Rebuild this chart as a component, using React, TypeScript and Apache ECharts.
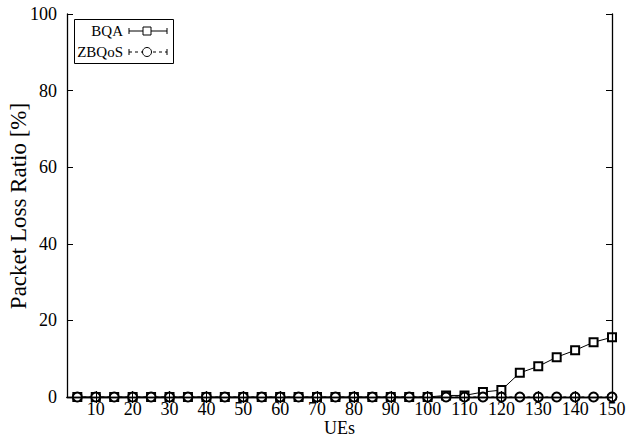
import React, { useEffect, useRef } from "react";
import * as echarts from "echarts";

const ues = [5, 10, 15, 20, 25, 30, 35, 40, 45, 50, 55, 60, 65, 70, 75, 80, 85, 90, 95, 100, 105, 110, 115, 120, 125, 130, 135, 140, 145, 150];
const bqa = [0, 0, 0, 0, 0, 0, 0, 0, 0, 0, 0, 0, 0, 0, 0, 0, 0, 0, 0, 0, 0.4, 0.4, 1.3, 1.8, 6.3, 8.0, 10.4, 12.2, 14.3, 15.6];
const zbqos = [0, 0, 0, 0, 0, 0, 0, 0, 0, 0, 0, 0, 0, 0, 0, 0, 0, 0, 0, 0, 0, 0, 0, 0, 0, 0, 0, 0, 0, 0];
const xTicks = [10, 20, 30, 40, 50, 60, 70, 80, 90, 100, 110, 120, 130, 140, 150];
const legendNames = ["BQA", "ZBQoS"];
const xTitle = "UEs";
const yTitle = "Packet Loss Ratio [%]";

const FONT = "Liberation Serif";

export default function App() {
  const ref = useRef<HTMLDivElement>(null);
  useEffect(() => {
    if (!ref.current) return;
    const chart = echarts.init(ref.current, null, { renderer: "svg" });
    const axisLine = { show: true, lineStyle: { color: "#000", width: 1.3 } };
    const tickStyle = { inside: true, length: 6, lineStyle: { color: "#000", width: 1 } };
    const xMin = 2.2;
    const xMax = 150;
    const lx = 129, rx = 167, cx = 147;
    const y1 = 31, y2 = 52;
    chart.setOption({
      animation: false,
      backgroundColor: "#fff",
      grid: { left: 67, top: 14, width: 545, height: 383, containLabel: false, outerBoundsMode: "none" },
      xAxis: [
        {
          type: "value",
          min: xMin,
          max: xMax,
          position: "bottom",
          z: 5,
          axisLine,
          axisTick: { ...tickStyle, customValues: xTicks },
          axisLabel: { customValues: xTicks, color: "#000", fontFamily: FONT, fontSize: 18, margin: 3 },
          splitLine: { show: false },
        },
        {
          type: "value",
          min: xMin,
          max: xMax,
          position: "top",
          z: 5,
          axisLine,
          axisTick: { ...tickStyle, customValues: xTicks },
          axisLabel: { show: false },
          splitLine: { show: false },
        },
      ],
      yAxis: [
        {
          type: "value",
          min: 0,
          max: 100,
          interval: 20,
          position: "left",
          z: 5,
          axisLine,
          axisTick: tickStyle,
          axisLabel: { color: "#000", fontFamily: FONT, fontSize: 18, margin: 10 },
          splitLine: { show: false },
        },
        {
          type: "value",
          min: 0,
          max: 100,
          interval: 20,
          position: "right",
          z: 5,
          axisLine,
          axisTick: tickStyle,
          axisLabel: { show: false },
          splitLine: { show: false },
        },
      ],
      series: [
        {
          name: legendNames[0],
          type: "line",
          data: ues.map((u, i) => [u, bqa[i]]),
          symbol: "emptyRect",
          symbolSize: 8,
          lineStyle: { color: "#000", width: 1 },
          itemStyle: { color: "#000", borderWidth: 1 },
          z: 3,
        },
        {
          name: legendNames[1],
          type: "line",
          data: ues.map((u, i) => [u, zbqos[i]]),
          symbol: "emptyCircle",
          symbolSize: 9,
          lineStyle: { color: "#000", width: 1, type: [3, 3] },
          itemStyle: { color: "#000", borderWidth: 1 },
          z: 3,
        },
      ],
      graphic: [
        {
          type: "text",
          x: 339.5,
          y: 428,
          style: { text: xTitle, align: "center", verticalAlign: "middle", font: `18px "${FONT}"`, fill: "#000" },
        },
        {
          type: "text",
          x: 18.5,
          y: 206,
          rotation: Math.PI / 2,
          style: { text: yTitle, align: "center", verticalAlign: "middle", font: `23px "${FONT}"`, fill: "#000" },
        },
        {
          type: "group",
          z: 10,
          children: [
            { type: "rect", shape: { x: 74.5, y: 19.5, width: 99, height: 44 }, style: { fill: "#fff", stroke: "#000", lineWidth: 1 } },
            { type: "text", x: 123, y: y1, style: { text: legendNames[0], align: "right", verticalAlign: "middle", font: `15px "${FONT}"`, fill: "#000" } },
            { type: "text", x: 123, y: y2, style: { text: legendNames[1], align: "right", verticalAlign: "middle", font: `15px "${FONT}"`, fill: "#000" } },
            { type: "line", shape: { x1: lx, y1: y1, x2: rx, y2: y1 }, style: { stroke: "#000", lineWidth: 1 } },
            { type: "line", shape: { x1: lx, y1: y1 - 3, x2: lx, y2: y1 + 3 }, style: { stroke: "#000", lineWidth: 1 } },
            { type: "line", shape: { x1: rx, y1: y1 - 3, x2: rx, y2: y1 + 3 }, style: { stroke: "#000", lineWidth: 1 } },
            { type: "rect", shape: { x: cx - 4, y: y1 - 4, width: 8, height: 8 }, style: { fill: "#fff", stroke: "#000", lineWidth: 1 } },
            { type: "line", shape: { x1: lx, y1: y2, x2: rx, y2: y2 }, style: { stroke: "#000", lineWidth: 1, lineDash: [3, 3] } },
            { type: "line", shape: { x1: lx, y1: y2 - 3, x2: lx, y2: y2 + 3 }, style: { stroke: "#000", lineWidth: 1 } },
            { type: "line", shape: { x1: rx, y1: y2 - 3, x2: rx, y2: y2 + 3 }, style: { stroke: "#000", lineWidth: 1 } },
            { type: "circle", shape: { cx: cx, cy: y2, r: 4.5 }, style: { fill: "#fff", stroke: "#000", lineWidth: 1 } },
          ],
        },
      ],
    });
    return () => chart.dispose();
  }, []);
  return (
    <div
      ref={ref}
      style={{ position: "fixed", left: 0, top: 0, width: 629, height: 437, background: "#fff" }}
    />
  );
}
